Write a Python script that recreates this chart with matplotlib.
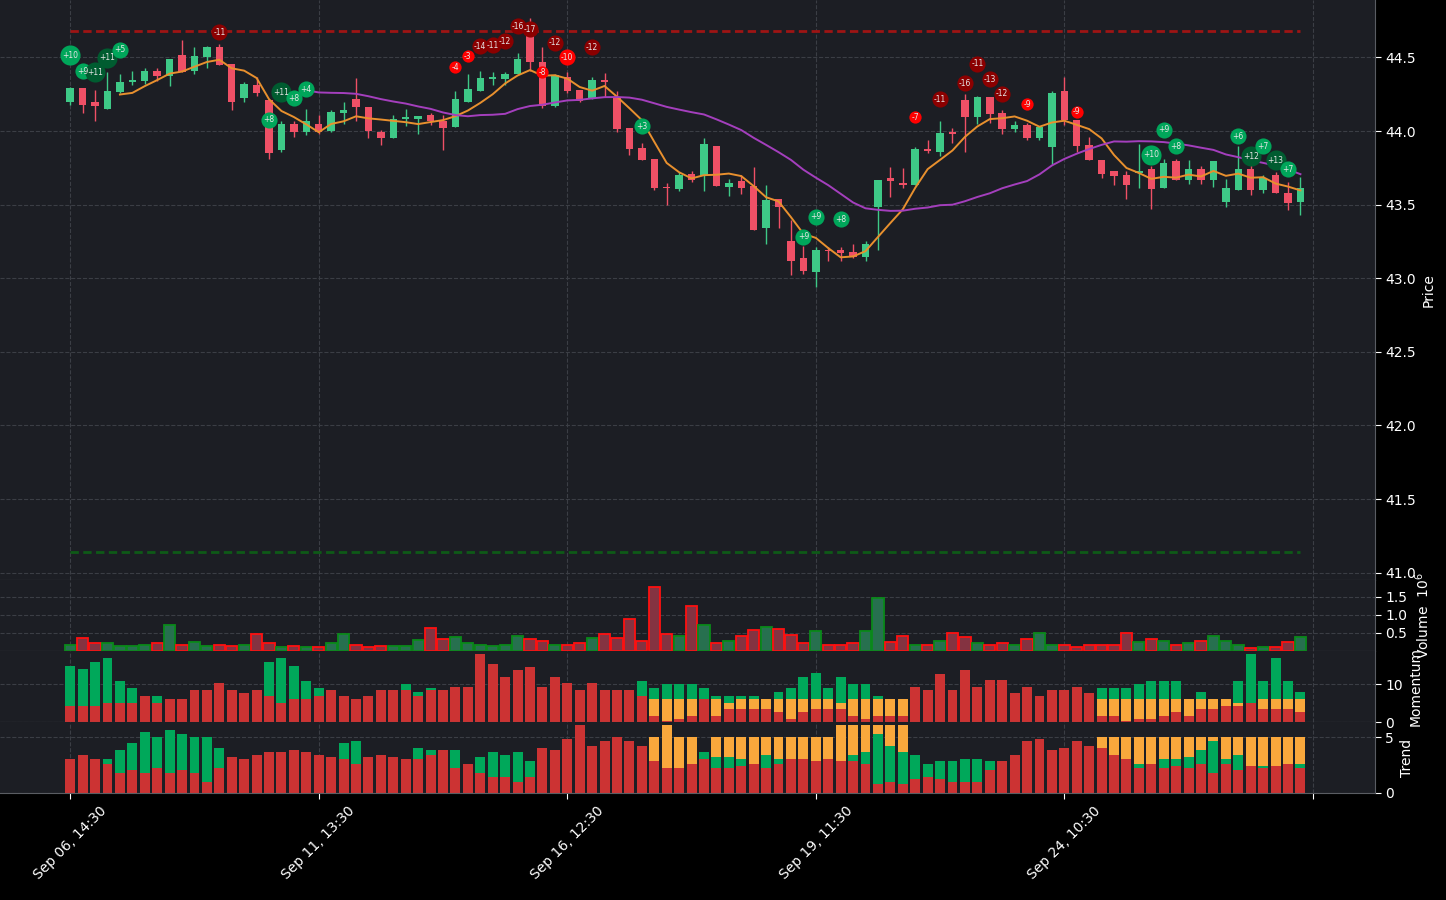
import numpy as np
import pandas as pd
import matplotlib
matplotlib.use("Agg")
import matplotlib.pyplot as plt

# =====================================
# DATA (hourly candles, Sep 06 - Sep 26)
# =====================================

opens = [44.20, 44.29, 44.20, 44.15, 44.265, 44.33, 44.34, 44.41, 44.375, 44.515,
         44.41, 44.50, 44.57, 44.455, 44.225, 44.31, 44.21, 43.87, 44.05, 43.995,
         44.05, 44.00, 44.125, 44.22, 44.16, 43.99, 43.955, 44.085, 44.085, 44.11,
         44.07, 44.03, 44.20, 44.275, 44.355, 44.35, 44.385, 44.65, 44.47, 44.17,
         44.37, 44.28, 44.22, 44.345, 44.225, 44.02, 43.885, 43.81, 43.62, 43.605,
         43.705, 43.695, 43.90, 43.62, 43.66, 43.625, 43.34, 43.54, 43.25, 43.14,
         43.045, 43.19, 43.19, 43.175, 43.145, 43.485, 43.68, 43.645, 43.63, 43.88,
         43.86, 43.99, 44.21, 44.095, 44.23, 44.12, 44.015, 44.04, 43.95, 43.89,
         44.27, 44.075, 43.905, 43.805, 43.725, 43.70, 43.715, 43.74, 43.615, 43.795,
         43.67, 43.74, 43.665, 43.52, 43.60, 43.74, 43.597, 43.70, 43.58, 43.518]
highs = [44.30, 44.29, 44.28, 44.40, 44.39, 44.41, 44.43, 44.425, 44.49, 44.62,
         44.57, 44.58, 44.59, 44.455, 44.33, 44.37, 44.22, 44.07, 44.07, 44.15,
         44.11, 44.14, 44.20, 44.36, 44.16, 44.01, 44.11, 44.15, 44.10, 44.12,
         44.11, 44.27, 44.39, 44.41, 44.40, 44.40, 44.53, 44.77, 44.57, 44.39,
         44.40, 44.28, 44.365, 44.395, 44.27, 44.02, 43.92, 43.81, 43.645, 43.72,
         43.73, 43.95, 43.90, 43.675, 43.70, 43.755, 43.635, 43.54, 43.395, 43.22,
         43.215, 43.21, 43.21, 43.235, 43.25, 43.67, 43.755, 43.75, 43.89, 43.94,
         44.067, 44.02, 44.25, 44.24, 44.23, 44.14, 44.065, 44.055, 44.035, 44.27,
         44.365, 44.075, 43.96, 43.805, 43.725, 43.73, 43.91, 43.76, 43.81, 43.81,
         43.80, 43.76, 43.795, 43.676, 43.90, 43.767, 43.70, 43.72, 43.654, 43.69]
lows = [44.18, 44.12, 44.07, 44.15, 44.26, 44.31, 44.32, 44.34, 44.305, 44.40,
        44.39, 44.43, 44.45, 44.14, 44.20, 44.24, 43.81, 43.86, 43.96, 43.97,
        43.98, 43.995, 44.05, 44.07, 43.95, 43.905, 43.955, 44.035, 43.98, 44.04,
        43.87, 44.03, 44.20, 44.27, 44.31, 44.31, 44.385, 44.41, 44.155, 44.16,
        44.26, 44.20, 44.22, 44.23, 43.99, 43.84, 43.80, 43.60, 43.50, 43.595,
        43.655, 43.59, 43.625, 43.56, 43.57, 43.33, 43.23, 43.34, 43.02, 43.03,
        42.94, 43.12, 43.115, 43.14, 43.115, 43.19, 43.55, 43.61, 43.63, 43.85,
        43.83, 43.92, 43.86, 44.05, 44.055, 43.98, 43.99, 43.94, 43.94, 43.775,
        44.04, 43.86, 43.80, 43.68, 43.635, 43.54, 43.615, 43.47, 43.615, 43.665,
        43.64, 43.64, 43.62, 43.484, 43.60, 43.568, 43.58, 43.58, 43.466, 43.43]
closes = [44.29, 44.18, 44.17, 44.27, 44.33, 44.345, 44.41, 44.375, 44.49, 44.40,
          44.51, 44.57, 44.45, 44.20, 44.32, 44.26, 43.85, 44.05, 43.995, 44.07,
          43.995, 44.13, 44.14, 44.165, 44.00, 43.955, 44.085, 44.095, 44.10, 44.07,
          44.02, 44.22, 44.285, 44.36, 44.365, 44.385, 44.49, 44.47, 44.17, 44.38,
          44.27, 44.205, 44.345, 44.33, 44.015, 43.88, 43.80, 43.61, 43.61, 43.70,
          43.67, 43.91, 43.625, 43.65, 43.615, 43.33, 43.53, 43.485, 43.115, 43.05,
          43.19, 43.185, 43.17, 43.145, 43.23, 43.67, 43.66, 43.635, 43.875, 43.865,
          43.985, 43.98, 44.095, 44.23, 44.115, 44.015, 44.04, 43.95, 44.025, 44.26,
          44.075, 43.90, 43.805, 43.71, 43.695, 43.635, 43.73, 43.605, 43.78, 43.665,
          43.74, 43.665, 43.795, 43.613, 43.74, 43.60, 43.683, 43.58, 43.51, 43.61]
volumes = [180000, 370000, 235000, 210000, 127000, 127000, 154000, 210000, 720000, 180000,
           260000, 127000, 154000, 127000, 180000, 480000, 210000, 100000, 127000, 100000,
           100000, 210000, 480000, 154000, 100000, 127000, 127000, 127000, 316000, 640000,
           340000, 400000, 210000, 154000, 127000, 180000, 420000, 340000, 290000, 180000,
           154000, 235000, 370000, 480000, 370000, 880000, 290000, 1780000, 480000, 420000,
           1260000, 720000, 235000, 290000, 420000, 590000, 670000, 610000, 450000, 210000,
           560000, 180000, 180000, 235000, 550000, 1480000, 260000, 420000, 180000, 180000,
           290000, 505000, 400000, 235000, 180000, 210000, 154000, 340000, 505000, 180000,
           154000, 100000, 154000, 180000, 180000, 505000, 260000, 340000, 290000, 180000,
           210000, 290000, 420000, 290000, 180000, 80000, 100000, 100000, 260000, 400000]

# momentum score parts (stacked: red, orange, green)
mom_red = [4.25, 4.25, 4.25, 4.96, 4.96, 4.96, 6.9, 4.96, 6.1, 6.1,
           8.5, 8.5, 10.35, 8.5, 7.7, 8.5, 6.9, 4.96, 6.1, 6.1,
           6.9, 8.5, 6.9, 6.1, 6.9, 8.5, 8.5, 8.5, 6.9, 8.5,
           8.5, 9.3, 9.3, 18.05, 15.4, 11.9, 13.8, 14.6, 9.3, 11.9,
           10.35, 8.5, 10.35, 8.5, 8.5, 8.5, 6.9, 1.6, 0.3, 0.8,
           1.6, 6.1, 1.6, 3.45, 3.45, 3.45, 3.45, 2.65, 0.8, 2.65,
           3.45, 3.45, 3.45, 1.6, 0.8, 1.6, 1.6, 1.6, 9.3, 8.5,
           12.7, 8.5, 13.8, 9.3, 11.15, 11.15, 7.7, 9.3, 6.9, 8.5,
           8.5, 9.3, 7.7, 1.6, 1.6, 0.3, 0.8, 0.8, 1.6, 2.65,
           1.6, 3.45, 3.45, 4.25, 4.25, 5.0, 3.45, 3.45, 3.45, 2.65]
mom_orange = [0, 0, 0, 0, 0, 0, 0, 0, 0, 0,
              0, 0, 0, 0, 0, 0, 0, 0, 0, 0,
              0, 0, 0, 0, 0, 0, 0, 0, 0, 0,
              0, 0, 0, 0, 0, 0, 0, 0, 0, 0,
              0, 0, 0, 0, 0, 0, 0, 4.5, 5.8, 5.3,
              4.5, 0, 4.5, 1.55, 2.65, 2.65, 2.65, 3.45, 5.3, 3.45,
              2.65, 2.65, 1.55, 4.5, 5.3, 4.5, 4.5, 4.5, 0, 0,
              0, 0, 0, 0, 0, 0, 0, 0, 0, 0,
              0, 0, 0, 4.5, 4.5, 5.8, 5.3, 5.3, 4.5, 3.45,
              4.5, 2.65, 2.65, 1.85, 0.75, 0, 2.65, 2.65, 2.65, 3.45]
mom_green = [10.65, 9.85, 11.65, 12.04, 5.94, 4.04, 0, 1.94, 0, 0,
             0, 0, 0, 0, 0, 0, 9.0, 12.04, 8.8, 4.8,
             2.1, 0, 0, 0, 0, 0, 0, 1.6, 1.1, 0.5,
             0, 0, 0, 0, 0, 0, 0, 0, 0, 0,
             0, 0, 0, 0, 0, 0, 4.0, 2.9, 4.0, 4.0,
             4.0, 2.9, 0.8, 1.9, 0.8, 0.8, 0, 1.9, 2.9, 5.8,
             6.9, 2.9, 6.9, 4.0, 4.0, 0.8, 0, 0, 0, 0,
             0, 0, 0, 0, 0, 0, 0, 0, 0, 0,
             0, 0, 0, 2.9, 2.9, 2.9, 4.0, 4.8, 4.8, 4.8,
             0, 1.9, 0, 0, 5.9, 13.05, 4.8, 10.9, 4.8, 1.9]

# trend score parts (stacked: red, green, orange)
trend_red = [3.04, 3.39, 3.04, 2.59, 1.79, 2.05, 1.79, 2.23, 1.79, 2.05,
             1.79, 0.98, 2.23, 3.21, 3.04, 3.39, 3.66, 3.66, 3.84, 3.66,
             3.39, 3.21, 3.04, 2.59, 3.21, 3.39, 3.21, 3.04, 3.04, 3.39,
             3.84, 2.23, 2.59, 1.79, 1.43, 1.43, 0.98, 1.43, 4.02, 3.84,
             4.82, 6.07, 4.2, 4.64, 5.0, 4.64, 4.2, 2.86, 2.23, 2.23,
             2.59, 3.04, 2.23, 2.23, 2.41, 2.59, 2.23, 2.59, 3.04, 3.04,
             2.86, 3.04, 2.86, 2.86, 2.59, 0.8, 0.98, 0.8, 1.25, 1.43,
             1.25, 0.98, 0.98, 0.98, 2.05, 2.86, 3.39, 4.64, 4.82, 3.84,
             4.02, 4.64, 4.2, 4.02, 3.39, 3.04, 2.23, 2.59, 2.23, 2.41,
             2.23, 2.59, 1.79, 2.59, 2.05, 2.41, 2.23, 2.41, 2.59, 2.23]
trend_green = [0, 0, 0, 0.45, 2.05, 2.41, 3.66, 2.77, 3.84, 3.22,
               3.21, 4.02, 1.79, 0, 0, 0, 0, 0, 0, 0,
               0, 0, 1.42, 2.05, 0, 0, 0, 0, 0.98, 0.45,
               0, 1.61, 0, 1.42, 2.23, 1.96, 2.68, 1.43, 0, 0,
               0, 0, 0, 0, 0, 0, 0, 0, 0, 0,
               0, 0.62, 0.98, 0.98, 0.63, 0, 1.16, 0.45, 0, 0,
               0, 0, 0, 0.53, 1.07, 4.47, 3.22, 2.86, 2.14, 1.16,
               1.61, 1.88, 2.06, 2.06, 0.81, 0, 0, 0, 0, 0,
               0, 0, 0, 0, 0, 0, 0.36, 0, 0.81, 0.63,
               0.98, 1.25, 2.85, 0.45, 1.34, 0, 0.18, 0, 0, 0.36]
trend_orange = [0, 0, 0, 0, 0, 0, 0, 0, 0, 0,
                0, 0, 0, 0, 0, 0, 0, 0, 0, 0,
                0, 0, 0, 0, 0, 0, 0, 0, 0, 0,
                0, 0, 0, 0, 0, 0, 0, 0, 0, 0,
                0, 0, 0, 0, 0, 0, 0, 2.14, 3.84, 2.77,
                2.41, 0, 1.79, 1.79, 1.96, 2.41, 1.61, 1.96, 1.96, 1.96,
                2.14, 1.96, 3.21, 2.68, 2.41, 0.8, 1.87, 2.41, 0, 0,
                0, 0, 0, 0, 0, 0, 0, 0, 0, 0,
                0, 0, 0, 0.98, 1.61, 1.96, 2.41, 2.41, 1.96, 1.96,
                1.79, 1.16, 0.36, 1.96, 1.61, 2.59, 2.59, 2.59, 2.41, 2.41]

# signal markers: candle index, price level, score
sig_idx = [0, 1, 2, 3, 4, 12, 16, 17, 18, 19,
           31, 32, 33, 34, 35, 36, 37, 38, 39, 40, 42, 46,
           59, 60, 62, 68, 70, 72, 73, 74, 75, 77, 81,
           87, 88, 89, 94, 95, 96, 97, 98]
sig_price = [44.514, 44.407, 44.40, 44.498, 44.552, 44.672, 44.077, 44.265, 44.224, 44.285,
             44.434, 44.507, 44.577, 44.583, 44.609, 44.71, 44.69, 44.398, 44.60, 44.502, 44.57, 44.032,
             43.281, 43.417, 43.399, 44.095, 44.215, 44.326, 44.457, 44.353, 44.254, 44.181, 44.132,
             43.84, 44.007, 43.896, 43.966, 43.83, 43.898, 43.80, 43.74]
sig_score = [10, 9, 11, 11, 5, -11, 8, 11, 8, 4,
             -4, -3, -14, -11, -12, -16, -17, -8, -12, -10, -12, 3,
             9, 9, 8, -7, -11, -16, -11, -13, -12, -9, -9,
             10, 9, 8, 6, 12, 7, 13, 7]

resistance = 44.68
support = 41.14

tick_labels = ['Sep 06, 14:30', 'Sep 11, 13:30', 'Sep 16, 12:30',
               'Sep 19, 11:30', 'Sep 24, 10:30', '']

# =====================================
# FIGURE
# =====================================

BG = '#1c1e24'
GRID = '#3b3e45'
UP = '#3ec987'
DOWN = '#ef5066'

n = len(closes)
x = np.arange(n)
o = np.array(opens); h = np.array(highs); l = np.array(lows); c = np.array(closes)
up = c >= o

sma5 = pd.Series(closes).rolling(5).mean()
sma20 = pd.Series(closes).rolling(20).mean()

fig = plt.figure(figsize=(14.46, 9), dpi=100, facecolor='black')
W = 1375 / 1446
ax = fig.add_axes([0, 1 - 580/900, W, 580/900])
ax_v = fig.add_axes([0, 1 - 651/900, W, 71/900], sharex=ax)
ax_m = fig.add_axes([0, 1 - 722/900, W, 71/900], sharex=ax)
ax_t = fig.add_axes([0, 1 - 793/900, W, 71/900], sharex=ax)

for a in (ax, ax_v, ax_m, ax_t):
    a.set_facecolor(BG)
    a.grid(True, color=GRID, linestyle='--', linewidth=0.8)
    a.set_axisbelow(True)
    a.yaxis.tick_right()
    a.yaxis.set_label_position('right')
    a.tick_params(axis='y', colors='white', labelsize=10, length=4)
    a.tick_params(axis='x', length=0, labelbottom=False)
    for s in ('left', 'top'):
        a.spines[s].set_visible(False)
    for s in ('right', 'bottom'):
        a.spines[s].set_color('#5a5d63')
    a.yaxis.label.set_color('white')

# candles
wick_col = np.where(up, UP, DOWN)
ax.vlines(x, l, h, colors=wick_col, linewidth=1, zorder=2)
body = np.maximum(np.abs(c - o), 0.006)
ax.bar(x, body, bottom=np.minimum(o, c), width=0.6, color=wick_col, zorder=3)

ax.plot(x, sma5, color='#e8902e', linewidth=1.4, zorder=4)
ax.plot(x, sma20, color='#a43fbd', linewidth=1.4, zorder=4)

ax.hlines(resistance, 0, n - 1, colors='#9e1414', linewidth=2, linestyles=(0, (3, 1.6)), zorder=2)
ax.hlines(support, 0, n - 1, colors='#0e5a17', linewidth=2, linestyles=(0, (3, 1.6)), zorder=2)

# signal markers
for i, p, s in zip(sig_idx, sig_price, sig_score):
    if s > 0:
        col = '#005c30' if s > 10 else '#00a65a'
        size = 210 if s >= 10 else 135
    else:
        col = '#8b0000' if s < -10 else '#ff0000'
        size = 135 if s <= -10 else 78
    ax.scatter(i, p, s=size, color=col, zorder=6, linewidths=0)
    ax.text(i, p, f'{s:+d}', color='#e6e6e6', fontsize=5.5, ha='center', va='center', zorder=7)

ax.set_ylim(40.95, 44.89)
ax.set_yticks(np.arange(41.0, 44.51, 0.5))
ax.set_ylabel('Price', fontsize=10)

# volume
vcol = np.where(up, '#27704f', '#843341')
ecol = np.where(up, '#0a8a1a', '#ff1010')
ax_v.bar(x, np.array(volumes) / 1e6, width=0.9, color=vcol, edgecolor=ecol, linewidth=1.3)
ax_v.set_ylim(0, 1.97)
ax_v.set_yticks([0.5, 1.0, 1.5])
ax_v.set_ylabel('Volume  $10^{6}$', fontsize=10)

# momentum
mr = np.array(mom_red); mo = np.array(mom_orange); mg = np.array(mom_green)
ax_m.bar(x, mr, width=0.8, color='#cc3333')
ax_m.bar(x, mo, bottom=mr, width=0.8, color='#f9a83c')
ax_m.bar(x, mg, bottom=mr + mo, width=0.8, color='#00a85a')
ax_m.set_ylim(0, 18.8)
ax_m.set_yticks([0, 10])
ax_m.set_ylabel('Momentum', fontsize=10)

# trend
tr = np.array(trend_red); tg = np.array(trend_green); to = np.array(trend_orange)
ax_t.bar(x, tr, width=0.8, color='#cc3333')
ax_t.bar(x, tg, bottom=tr, width=0.8, color='#00a85a')
ax_t.bar(x, to, bottom=tr + tg, width=0.8, color='#f9a83c')
ax_t.set_ylim(0, 6.34)
ax_t.set_yticks([0, 5])
ax_t.set_ylabel('Trend', fontsize=10)

ax_t.set_xlim(-5.65, 105.0)
ax_t.set_xticks(np.arange(0, n + 1, 20))
ax_t.set_xticklabels(tick_labels, rotation=45, ha='center')
ax_t.tick_params(axis='x', length=4, colors='white', labelbottom=True, labelsize=10)

plt.savefig('out.png', dpi=100, facecolor='black')
